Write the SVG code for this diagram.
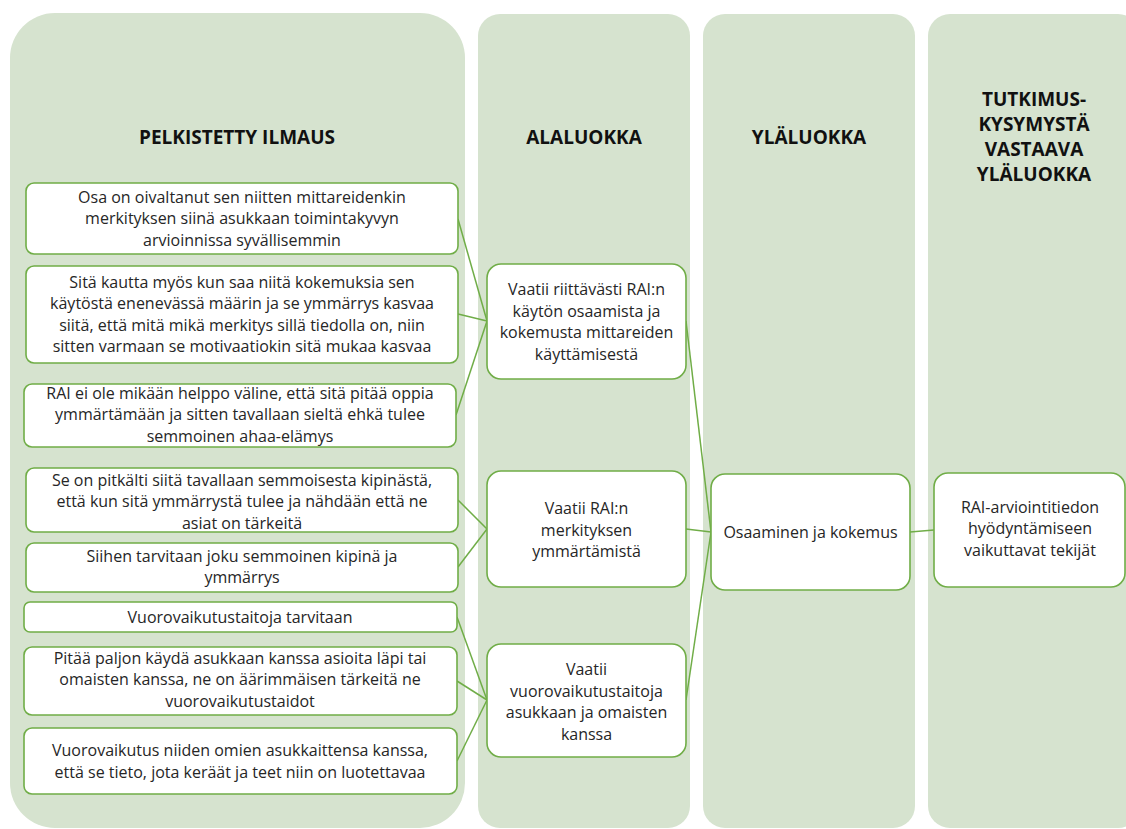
<svg xmlns="http://www.w3.org/2000/svg" width="1126" height="829" viewBox="0 0 1126 829">
<style>
.col{fill:#D6E3CF}
.box{fill:#FFFFFF;stroke:#70AD47;stroke-width:1.6}
.hd{font-family:"Open Sans","Liberation Sans",sans-serif;font-weight:bold;font-size:19px;fill:#111;text-anchor:middle}
.t{font-family:"Open Sans","Liberation Sans",sans-serif;font-size:16px;fill:#262626;text-anchor:middle}
.cn{stroke:#70AD47;stroke-width:1.5;fill:none}
</style>
<rect x="0" y="0" width="1126" height="829" fill="#FFFFFF"/>
<g id="columns">
<rect class="col" x="10" y="13" width="455" height="815" rx="45"/>
<rect class="col" x="478" y="14" width="212" height="814" rx="22"/>
<rect class="col" x="703" y="14" width="212" height="814" rx="22"/>
<rect class="col" x="928" y="14" width="212" height="814" rx="22"/>
</g>
<g id="headers">
<text class="hd" x="237" y="144">PELKISTETTY ILMAUS</text>
<text class="hd" x="584" y="144">ALALUOKKA</text>
<text class="hd" x="809" y="144">YLÄLUOKKA</text>
<text class="hd" x="1034" y="106">TUTKIMUS-</text>
<text class="hd" x="1034" y="131">KYSYMYSTÄ</text>
<text class="hd" x="1034" y="156">VASTAAVA</text>
<text class="hd" x="1034" y="181">YLÄLUOKKA</text>
</g>
<g id="connectors">
<line class="cn" x1="458" y1="219" x2="487" y2="321"/>
<line class="cn" x1="458" y1="314" x2="487" y2="321"/>
<line class="cn" x1="456" y1="415" x2="487" y2="321"/>
<line class="cn" x1="458" y1="500" x2="487" y2="529"/>
<line class="cn" x1="458" y1="567" x2="487" y2="529"/>
<line class="cn" x1="457" y1="617" x2="487" y2="700"/>
<line class="cn" x1="457" y1="681" x2="487" y2="700"/>
<line class="cn" x1="457" y1="761" x2="487" y2="700"/>
<line class="cn" x1="686" y1="321" x2="711" y2="532"/>
<line class="cn" x1="686" y1="529" x2="711" y2="532"/>
<line class="cn" x1="686" y1="700" x2="711" y2="532"/>
<line class="cn" x1="910" y1="532" x2="934" y2="530"/>
</g>
<g id="n1">
<rect class="box" x="26" y="183" width="432" height="71" rx="8"/>
<text class="t"><tspan x="242" y="202.5">Osa on oivaltanut sen niitten mittareidenkin</tspan><tspan x="242" y="224">merkityksen siinä asukkaan toimintakyvyn</tspan><tspan x="242" y="245.5">arvioinnissa syvällisemmin</tspan></text>
</g>
<g id="n2">
<rect class="box" x="26" y="266" width="432" height="97" rx="8"/>
<text class="t"><tspan x="242" y="287.5">Sitä kautta myös kun saa niitä kokemuksia sen</tspan><tspan x="242" y="309">käytöstä enenevässä määrin ja se ymmärrys kasvaa</tspan><tspan x="242" y="330.5">siitä, että mitä mikä merkitys sillä tiedolla on, niin</tspan><tspan x="242" y="352">sitten varmaan se motivaatiokin sitä mukaa kasvaa</tspan></text>
</g>
<g id="n3">
<rect class="box" x="24" y="384" width="432" height="63" rx="8"/>
<text class="t"><tspan x="240" y="398.5">RAI ei ole mikään helppo väline, että sitä pitää oppia</tspan><tspan x="240" y="420">ymmärtämään ja sitten tavallaan sieltä ehkä tulee</tspan><tspan x="240" y="441.5">semmoinen ahaa-elämys</tspan></text>
</g>
<g id="n4">
<rect class="box" x="26" y="468" width="432" height="64" rx="8"/>
<text class="t"><tspan x="242" y="486">Se on pitkälti siitä tavallaan semmoisesta kipinästä,</tspan><tspan x="242" y="507">että kun sitä ymmärrystä tulee ja nähdään että ne</tspan><tspan x="242" y="528.5">asiat on tärkeitä</tspan></text>
</g>
<g id="n5">
<rect class="box" x="26" y="543" width="432" height="49" rx="8"/>
<text class="t"><tspan x="242" y="562">Siihen tarvitaan joku semmoinen kipinä ja</tspan><tspan x="242" y="582.5">ymmärrys</tspan></text>
</g>
<g id="n6">
<rect class="box" x="24" y="602" width="433" height="30" rx="6"/>
<text class="t" x="240" y="622.5">Vuorovaikutustaitoja tarvitaan</text>
</g>
<g id="n7">
<rect class="box" x="24" y="647" width="433" height="68" rx="8"/>
<text class="t"><tspan x="240" y="664">Pitää paljon käydä asukkaan kanssa asioita läpi tai</tspan><tspan x="240" y="685">omaisten kanssa, ne on äärimmäisen tärkeitä ne</tspan><tspan x="240" y="706.5">vuorovaikutustaidot</tspan></text>
</g>
<g id="n8">
<rect class="box" x="24" y="728" width="433" height="66" rx="8"/>
<text class="t"><tspan x="240" y="756">Vuorovaikutus niiden omien asukkaittensa kanssa,</tspan><tspan x="240" y="777.5">että se tieto, jota keräät ja teet niin on luotettavaa</tspan></text>
</g>
<g id="a1">
<rect class="box" x="487" y="264" width="199" height="115" rx="14"/>
<text class="t"><tspan x="586.5" y="295">Vaatii riittävästi RAI:n</tspan><tspan x="586.5" y="316.5">käytön osaamista ja</tspan><tspan x="586.5" y="338">kokemusta mittareiden</tspan><tspan x="586.5" y="359.5">käyttämisestä</tspan></text>
</g>
<g id="a2">
<rect class="box" x="487" y="471" width="199" height="116" rx="14"/>
<text class="t"><tspan x="586.5" y="514">Vaatii RAI:n</tspan><tspan x="586.5" y="535.5">merkityksen</tspan><tspan x="586.5" y="556.5">ymmärtämistä</tspan></text>
</g>
<g id="a3">
<rect class="box" x="487" y="644" width="199" height="113" rx="14"/>
<text class="t"><tspan x="586.5" y="675">Vaatii</tspan><tspan x="586.5" y="696.5">vuorovaikutustaitoja</tspan><tspan x="586.5" y="718">asukkaan ja omaisten</tspan><tspan x="586.5" y="739.5">kanssa</tspan></text>
</g>
<g id="y1">
<rect class="box" x="711" y="474" width="199" height="116" rx="14"/>
<text class="t" x="810.5" y="537.5">Osaaminen ja kokemus</text>
</g>
<g id="r1">
<rect class="box" x="934" y="473" width="191" height="114" rx="14"/>
<text class="t"><tspan x="1030" y="512.5">RAI-arviointitiedon</tspan><tspan x="1030" y="534">hyödyntämiseen</tspan><tspan x="1030" y="555.5">vaikuttavat tekijät</tspan></text>
</g>
</svg>
